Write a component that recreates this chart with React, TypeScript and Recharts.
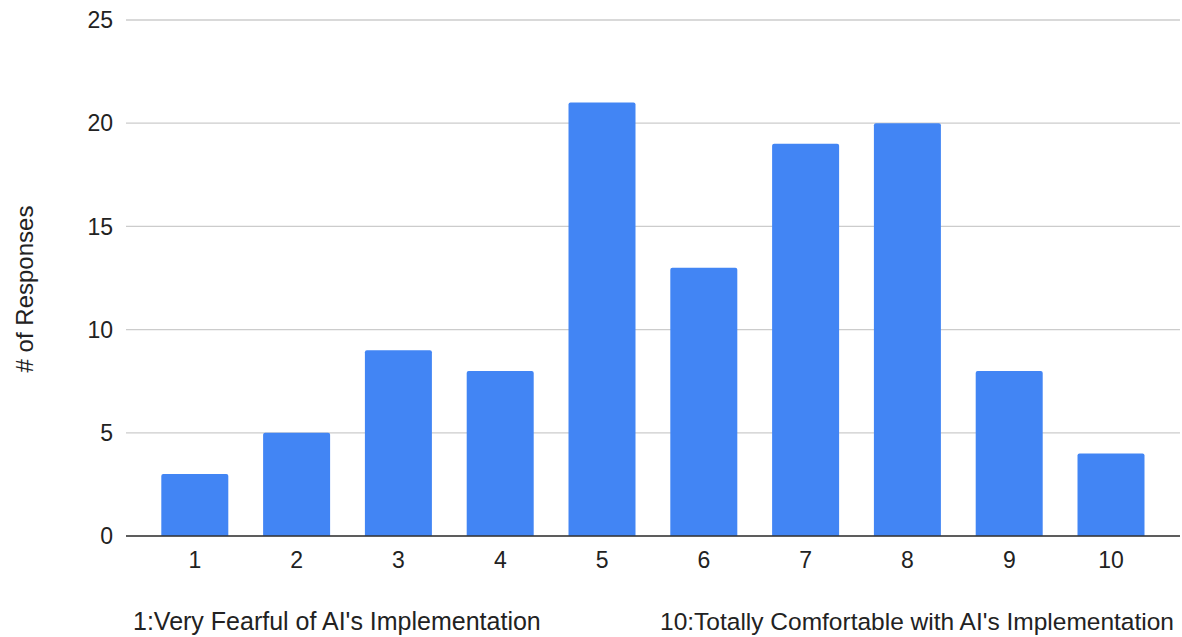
import React from "react";
import { BarChart, Bar, XAxis, YAxis, CartesianGrid } from "recharts";

// Survey: comfort level with AI's implementation (1–10 scale)
const ratings = ["1", "2", "3", "4", "5", "6", "7", "8", "9", "10"];
const responses = [3, 5, 9, 8, 21, 13, 19, 20, 8, 4];
const yTicks = [0, 5, 10, 15, 20, 25];
const lowLabel = "1:Very Fearful of AI's Implementation";
const highLabel = "10:Totally Comfortable with AI's Implementation";
const yTitle = "# of Responses";

const data = ratings.map((r, i) => ({ rating: r, count: responses[i] }));

const FONT = "'Liberation Sans', Arial, sans-serif";
const TEXT = "#222222";

const ScaleEnds = (props: any) => {
  const { viewBox } = props;
  const { x, y, width } = viewBox;
  const ty = y + 94;
  return (
    <g fontFamily={FONT} fill={TEXT}>
      <text x={x + 7} y={ty} textAnchor="start" fontSize={25} fill={TEXT}>
        {lowLabel}
      </text>
      <text x={x + width - 6} y={ty} textAnchor="end" fontSize={24.5} fill={TEXT}>
        {highLabel}
      </text>
    </g>
  );
};

const YTitle = (props: any) => {
  const { viewBox } = props;
  const cx = 24;
  const cy = viewBox.y + viewBox.height / 2 + 11;
  return (
    <text
      x={cx}
      y={cy}
      transform={`rotate(-90 ${cx} ${cy})`}
      textAnchor="middle"
      dominantBaseline="central"
      fontFamily={FONT}
      fontSize={24}
      fill={TEXT}
    >
      {yTitle}
    </text>
  );
};

export default function App() {
  return (
    <div style={{ position: "absolute", left: 0, top: 0, background: "#fff" }}>
      <BarChart
        width={1182}
        height={637}
        data={data}
        margin={{ top: 20, right: 2, bottom: 0, left: 0 }}
        barCategoryGap="17%"
      >
        <CartesianGrid vertical={false} stroke="#cccccc" strokeWidth={1.3} />
        <XAxis
          dataKey="rating"
          height={101}
          padding={{ left: 18, right: 18 }}
          axisLine={{ stroke: "#333333", strokeWidth: 1.5 }}
          tickLine={false}
          tickSize={0}
          tickMargin={16}
          tick={{ fill: TEXT, fontSize: 23, fontFamily: FONT }}
          interval={0}
          label={<ScaleEnds />}
        />
        <YAxis
          width={126}
          domain={[0, 25]}
          ticks={yTicks}
          axisLine={false}
          tickLine={false}
          tickSize={0}
          tickMargin={13}
          tick={{ fill: TEXT, fontSize: 23, fontFamily: FONT }}
          label={<YTitle />}
        />
        <Bar
          dataKey="count"
          fill="#4285F4"
          radius={[2, 2, 0, 0]}
          isAnimationActive={false}
        />
      </BarChart>
    </div>
  );
}
